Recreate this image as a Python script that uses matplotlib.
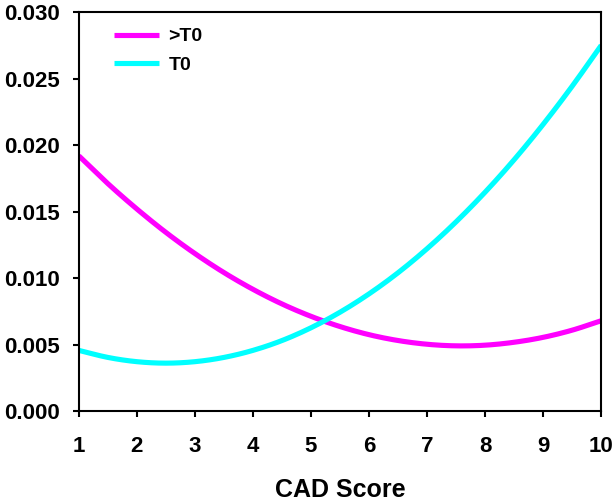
import matplotlib
matplotlib.use("Agg")
import matplotlib.pyplot as plt
import numpy as np

# CAD score grid (half steps) and the two curves
cad_score = [1, 1.5, 2, 2.5, 3, 3.5, 4, 4.5, 5, 5.5,
             6, 6.5, 7, 7.5, 8, 8.5, 9, 9.5, 10]
above_t0 = [0.01919, 0.01710, 0.01519, 0.01343, 0.01184, 0.01041, 0.00915, 0.00805, 0.00712,
            0.00635, 0.00574, 0.00530, 0.00502, 0.00490, 0.00495, 0.00517, 0.00554, 0.00608, 0.00679]
t0 = [0.00456, 0.00403, 0.00371, 0.00360, 0.00371, 0.00403, 0.00456, 0.00530, 0.00626, 0.00743,
      0.00881, 0.01040, 0.01221, 0.01423, 0.01646, 0.01890, 0.02156, 0.02443, 0.02750]

x_ticks = [1, 2, 3, 4, 5, 6, 7, 8, 9, 10]
y_ticks = [0.000, 0.005, 0.010, 0.015, 0.020, 0.025, 0.030]


def smooth(xs, ys, n=12):
    # Catmull-Rom through the points, like a spreadsheet "smoothed line"
    x = np.asarray(xs, float)
    y = np.asarray(ys, float)
    px = np.concatenate([[2 * x[0] - x[1]], x, [2 * x[-1] - x[-2]]])
    py = np.concatenate([[2 * y[0] - y[1]], y, [2 * y[-1] - y[-2]]])
    t = np.linspace(0, 1, n, endpoint=False)
    ox, oy = [], []
    for i in range(1, len(px) - 2):
        for p, o in ((px, ox), (py, oy)):
            p0, p1, p2, p3 = p[i - 1], p[i], p[i + 1], p[i + 2]
            o.extend(0.5 * (2 * p1 + (p2 - p0) * t + (2 * p0 - 5 * p1 + 4 * p2 - p3) * t ** 2
                            + (3 * p1 - p0 - 3 * p2 + p3) * t ** 3))
    ox.append(x[-1])
    oy.append(y[-1])
    return ox, oy


plt.rcParams['font.family'] = ['Liberation Sans', 'DejaVu Sans']
plt.rcParams['font.weight'] = 'bold'

fig = plt.figure(figsize=(6.16, 5.04), dpi=100)
ax = fig.add_axes([0.128, 0.1845, 0.848, 0.7915])

ax.plot(*smooth(cad_score, above_t0), color='#ff00ff', lw=3.7, label='>T0', solid_capstyle='butt')
ax.plot(*smooth(cad_score, t0), color='#00ffff', lw=3.7, label='T0', solid_capstyle='butt')

ax.set_xlim(1, 10)
ax.set_ylim(0, 0.030)
ax.set_xticks(x_ticks)
ax.set_yticks(y_ticks)
ax.set_yticklabels([f"{v:.3f}" for v in y_ticks])

for s in ax.spines.values():
    s.set_linewidth(1.5)
ax.tick_params(direction='out', length=4, width=1.5, labelsize=16)
ax.tick_params(axis='x', pad=14)
ax.tick_params(axis='y', pad=9.5)

ax.set_xlabel('CAD Score', fontsize=18, fontweight='bold', labelpad=15)

ax.legend(loc='upper left', bbox_to_anchor=(0.1851, 0.945), bbox_transform=fig.transFigure,
          frameon=False, borderaxespad=0, borderpad=0, fontsize=14,
          handlelength=2.3, handletextpad=0.5, labelspacing=0.55)

fig.savefig('out.png', dpi=100)
